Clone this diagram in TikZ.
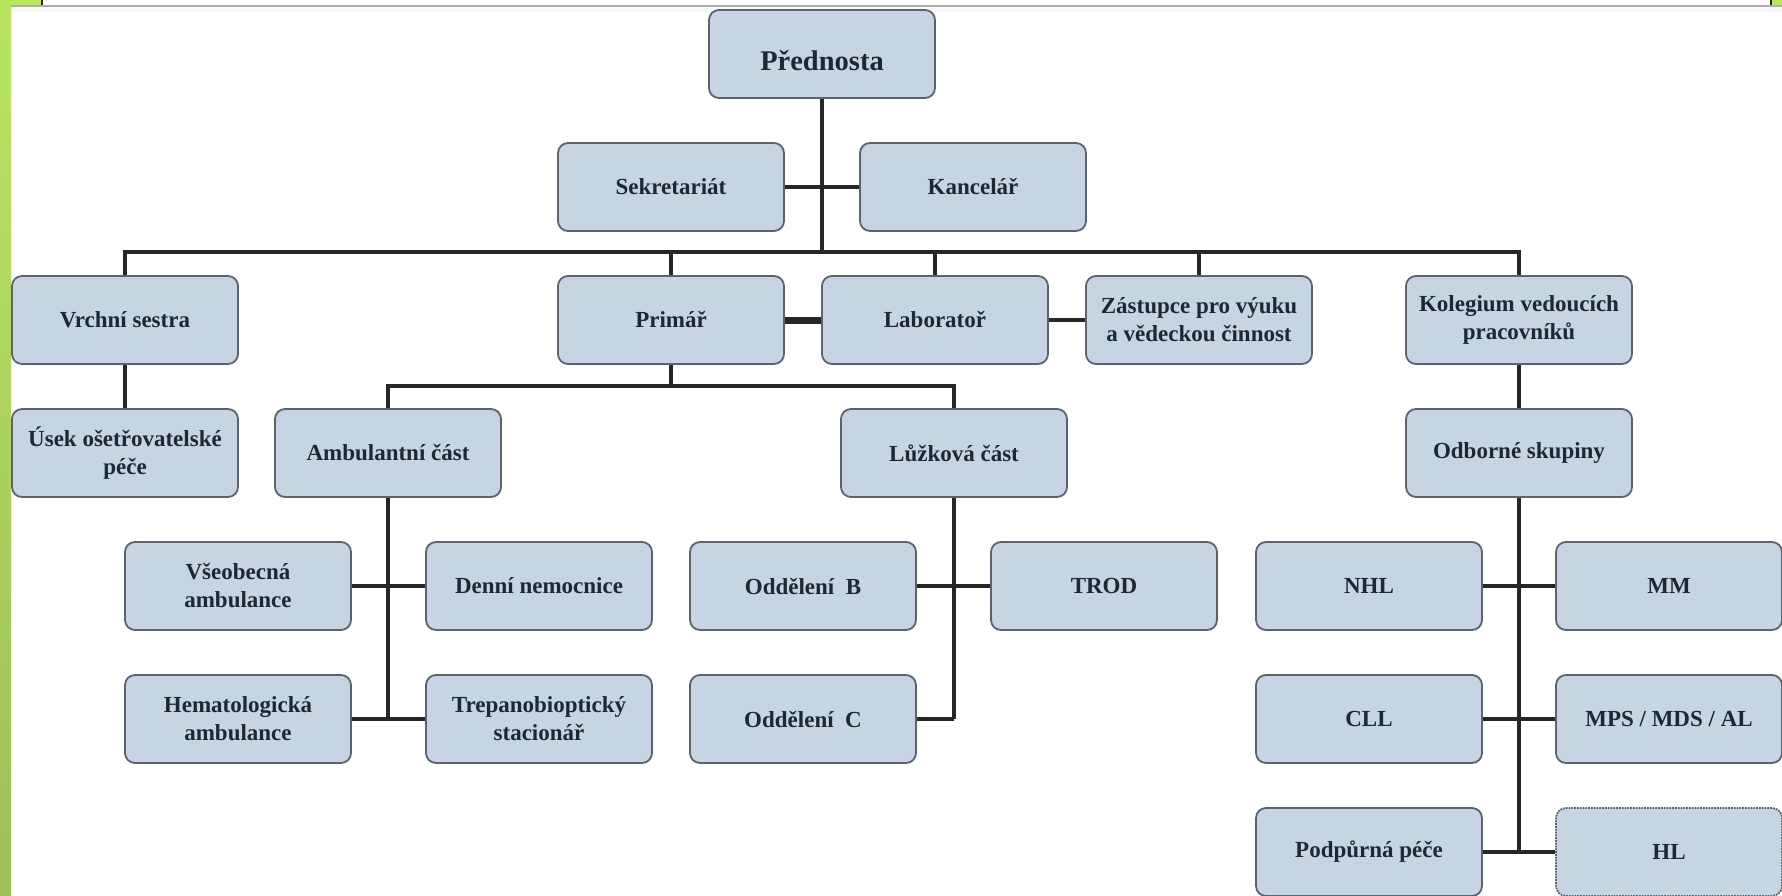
\documentclass[tikz,border=0pt]{standalone}
\usepackage{fontspec}
\setmainfont{Liberation Serif}
\definecolor{boxfill}{HTML}{C6D4E3}
\definecolor{boxline}{HTML}{5A636E}
\definecolor{txt}{HTML}{1C2836}
\definecolor{conn}{HTML}{262626}
\definecolor{gtop}{HTML}{B9E562}
\definecolor{gbot}{HTML}{9CC05B}
\begin{document}
\begin{tikzpicture}[x=1pt,y=-1pt,
  box/.style={draw=boxline, line width=1.8pt, fill=boxfill, rounded corners=10pt,
    minimum width=226pt, minimum height=88pt, inner sep=2pt, text=txt,
    font=\fontsize{23}{28}\selectfont\bfseries, align=center},
  link/.style={draw=conn, line width=4.5pt},
  thicklink/.style={draw=conn, line width=7pt},
]
\useasboundingbox (0,0) rectangle (1782,896);
\fill[white] (0,0) rectangle (1782,896);
% background decoration
\shade[top color=gtop, bottom color=gbot] (0,0) rectangle (11,896);
\fill[gtop] (0,0) rectangle (42,5);
\draw[line width=1.5pt, conn] (42,0) -- (42,5);
\fill[gtop] (1772,0) rectangle (1782,5);
\draw[line width=1.5pt, conn] (1771,0) -- (1771,5);
\draw[line width=2pt, gray!65] (11,6) -- (1782,6);
\fill[gray!6] (11,7) rectangle (1782,12);

% nodes
\node[box, font=\fontsize{28.5}{33}\selectfont\bfseries] (pred) at (822,54) {\raisebox{-7pt}[\height][\depth]{Přednosta}};
\node[box] (sekr) at (671,187) {Sekretariát};
\node[box] (kanc) at (973,187) {Kancelář};

\node[box] (vrchni) at (125,320) {Vrchní sestra};
\node[box] (primar) at (671,320) {Primář};
\node[box] (lab) at (935,320) {Laboratoř};
\node[box] (zast) at (1199,320) {Zástupce pro výuku\\a vědeckou činnost};
\node[box] (koleg) at (1519,320) {Kolegium vedoucích\\pracovníků};

\node[box] (usek) at (125,453) {Úsek ošetřovatelské\\péče};
\node[box] (ambul) at (388,453) {Ambulantní část};
\node[box] (luzk) at (954,453) {Lůžková část};
\node[box] (odbor) at (1519,453) {Odborné skupiny};

\node[box] (vseob) at (238,586) {Všeobecná\\ambulance};
\node[box] (denni) at (539,586) {Denní nemocnice};
\node[box] (oddB) at (803,586) {Oddělení\hspace{0.5em}B};
\node[box] (trod) at (1104,586) {TROD};
\node[box] (nhl) at (1369,586) {NHL};
\node[box] (mm) at (1669,586) {MM};

\node[box] (hemat) at (238,719) {Hematologická\\ambulance};
\node[box] (trepan) at (539,719) {Trepanobioptický\\stacionář};
\node[box] (oddC) at (803,719) {Oddělení\hspace{0.5em}C};
\node[box] (cll) at (1369,719) {CLL};
\node[box] (mps) at (1669,719) {MPS / MDS / AL};

\node[box] (podp) at (1369,852) {Podpůrná péče};
\node[box, densely dotted] (hl) at (1669,852) {HL};

% helper coordinates
\coordinate (bar) at (0,252);
\coordinate (subbar) at (0,386);

% connectors
\draw[link] (pred.south) -- (pred.south |- bar);
\draw[link] (sekr.east) -- (kanc.west);
\draw[link] (vrchni.north) -- (vrchni.north |- bar) -- (koleg.north |- bar) -- (koleg.north);
\draw[link] (primar.north) -- (primar.north |- bar);
\draw[link] (lab.north) -- (lab.north |- bar);
\draw[link] (zast.north) -- (zast.north |- bar);

\draw[thicklink] (primar.east) -- (lab.west);
\draw[link] (lab.east) -- (zast.west);

\draw[link] (vrchni.south) -- (usek.north);

\draw[link] (primar.south) -- (primar.south |- subbar);
\draw[link] (ambul.north) -- (ambul.north |- subbar) -- (luzk.north |- subbar) -- (luzk.north);

\draw[link] (ambul.south) -- (ambul.south |- hemat.east);
\draw[link] (vseob.east) -- (denni.west);
\draw[link] (hemat.east) -- (trepan.west);

\draw[link] (luzk.south) -- (luzk.south |- oddC.east);
\draw[link] (oddB.east) -- (trod.west);
\draw[link] (oddC.east) -- (oddC.east -| luzk.south);

\draw[link] (koleg.south) -- (odbor.north);
\draw[link] (odbor.south) -- (odbor.south |- podp.east);
\draw[link] (nhl.east) -- (mm.west);
\draw[link] (cll.east) -- (mps.west);
\draw[link] (podp.east) -- (hl.west);
\end{tikzpicture}
\end{document}
